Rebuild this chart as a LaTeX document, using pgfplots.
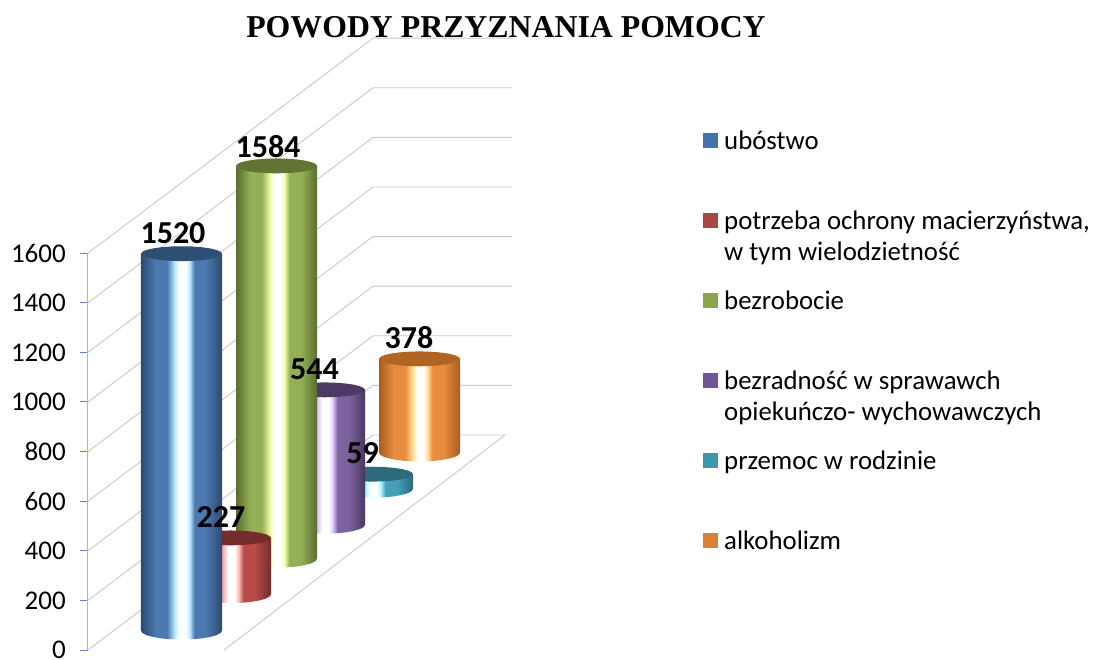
\documentclass[border=0pt]{standalone}
\usepackage{fontspec}
\setmainfont{Carlito}
\newfontfamily\titlefont{Liberation Serif}
\usepackage{pgfplots}
\usepackage{pgfplotstable}
\pgfplotsset{compat=1.18}

\definecolor{gridgray}{HTML}{C8C8C8}
\definecolor{tickblue}{HTML}{5B87C0}
\definecolor{lineblue}{HTML}{9DB8DA}

\definecolor{bluedark}{HTML}{2C4A6E}
\definecolor{bluemid}{HTML}{4C79B0}
\definecolor{bluetint}{HTML}{BEEBFF}
\definecolor{bluelid}{HTML}{2E4E74}
\definecolor{bluekey}{HTML}{4672AA}
\definecolor{reddark}{HTML}{732C2A}
\definecolor{redmid}{HTML}{B84B48}
\definecolor{redtint}{HTML}{FFBEB9}
\definecolor{redlid}{HTML}{762C2A}
\definecolor{redkey}{HTML}{AA4644}
\definecolor{greendark}{HTML}{5A6E30}
\definecolor{greenmid}{HTML}{94B056}
\definecolor{greentint}{HTML}{F0FFAA}
\definecolor{greenlid}{HTML}{607532}
\definecolor{greenkey}{HTML}{8AA64A}
\definecolor{purpledark}{HTML}{483860}
\definecolor{purplemid}{HTML}{7D62A0}
\definecolor{purpletint}{HTML}{E1C8FF}
\definecolor{purplelid}{HTML}{4C3A64}
\definecolor{purplekey}{HTML}{705696}
\definecolor{tealdark}{HTML}{2A687A}
\definecolor{tealmid}{HTML}{44A0B8}
\definecolor{tealtint}{HTML}{B4F5FF}
\definecolor{teallid}{HTML}{2D6A7C}
\definecolor{tealkey}{HTML}{3C96AC}
\definecolor{orangedark}{HTML}{AA5C1E}
\definecolor{orangemid}{HTML}{E88C42}
\definecolor{orangetint}{HTML}{FFE196}
\definecolor{orangelid}{HTML}{B26422}
\definecolor{orangekey}{HTML}{DE8034}

% cylinder side: dark edge, base colour, pale tint, white highlight
\newcommand{\cylshade}[1]{%
  \pgfdeclarehorizontalshading{c#1}{100bp}{%
    color(0bp)=(#1dark); color(25bp)=(#1dark); color(34bp)=(#1mid); color(41bp)=(#1mid);
    color(46bp)=(#1tint); color(48.5bp)=(white); color(52.5bp)=(white);
    color(55bp)=(#1tint); color(58bp)=(#1mid); color(65bp)=(#1mid); color(75bp)=(#1dark); color(100bp)=(#1dark)}}
\cylshade{blue}
\cylshade{red}
\cylshade{green}
\cylshade{purple}
\cylshade{teal}
\cylshade{orange}

% outline of the side: h=1 at the top, then the lower half of the bottom ellipse
\pgfplotstableread{
u h s
0 1 0
81 1 0
81 0 0
79.62 0 0.2588
75.57 0 0.5
69.14 0 0.7071
60.75 0 0.866
50.98 0 0.9659
40.5 0 1
30.02 0 0.9659
20.25 0 0.866
11.86 0 0.7071
5.43 0 0.5
1.38 0 0.2588
0 0 0
}\sideoutline
% outline of the lid
\pgfplotstableread{
u s
0 0
1.38 0.2588
5.43 0.5
11.86 0.7071
20.25 0.866
30.02 0.9659
40.5 1
50.98 0.9659
60.75 0.866
69.14 0.7071
75.57 0.5
79.62 0.2588
81 0
79.62 -0.2588
75.57 -0.5
69.14 -0.7071
60.75 -0.866
50.98 -0.9659
40.5 -1
30.02 -0.9659
20.25 -0.866
11.86 -0.7071
5.43 -0.5
1.38 -0.2588
}\lidoutline

% #1 colour name, #2 left, #3 base, #4 value
\newcommand{\cylinder}[4]{%
  \addplot[forget plot, shade, shading=c#1, draw=none]
    table[x expr=#2+\thisrow{u}, y expr=#3+\thisrow{h}*#4-36*\thisrow{s}] {\sideoutline} --cycle;
  \addplot[forget plot, fill=#1lid, draw=none]
    table[x expr=#2+\thisrow{u}, y expr=#3+#4+30*\thisrow{s}] {\lidoutline} --cycle;
}

\begin{document}
\begin{tikzpicture}
\useasboundingbox (-88pt,0pt) rectangle (1006pt,659pt);
\begin{axis}[
  scale only axis,
  width=1006pt,
  height=659pt,
  xmin=88, xmax=1094,
  ymin=-36.29, ymax=2620.97,
  clip=false,
  axis x line=none,
  axis y line=left,
  y axis line style={draw=none},
  ytick={0,200,400,600,800,1000,1200,1400,1600},
  tick align=outside,
  major tick length=8pt,
  tick style={tickblue, line width=1pt},
  /pgf/number format/assume math mode=true,
  /pgf/number format/1000 sep={},
  yticklabel style={font=\fontsize{27}{27}\selectfont, inner sep=0pt, xshift=-14pt, anchor=east},
  title={\titlefont\bfseries POWODY PRZYZNANIA POMOCY},
  title style={at={(axis cs:506,2487)}, anchor=center, font=\fontsize{31.8}{32}\selectfont},
  legend style={at={(axis cs:703,2089)}, anchor=north west, draw=none, fill=none,
    font=\fontsize{26.8}{31.5}\selectfont, inner sep=0pt, row sep=0pt, column sep=6pt,
    cells={anchor=base west},
    nodes={inner sep=0pt, text height=17pt, text depth=63pt}},
  legend image code/.code={\fill[#1, draw=none] (0pt,1pt) rectangle (15pt,16pt);},
]
% back walls
\addplot[forget plot, gridgray, line width=0.9pt] coordinates {(88,0) (373,867) (505,867)};
\addplot[forget plot, gridgray, line width=0.9pt] coordinates {(224,0) (505,867)};
\addplot[forget plot, gridgray, line width=0.9pt] coordinates {(88,200) (373,1067) (512,1067)};
\addplot[forget plot, gridgray, line width=0.9pt] coordinates {(88,400) (373,1267) (512,1267)};
\addplot[forget plot, gridgray, line width=0.9pt] coordinates {(88,600) (373,1467) (512,1467)};
\addplot[forget plot, gridgray, line width=0.9pt] coordinates {(88,800) (373,1667) (512,1667)};
\addplot[forget plot, gridgray, line width=0.9pt] coordinates {(88,1000) (373,1867) (512,1867)};
\addplot[forget plot, gridgray, line width=0.9pt] coordinates {(88,1200) (373,2067) (512,2067)};
\addplot[forget plot, gridgray, line width=0.9pt] coordinates {(88,1400) (373,2267) (512,2267)};
\addplot[forget plot, gridgray, line width=0.9pt] coordinates {(88,1600) (373,2467) (512,2467)};
\addplot[forget plot, lineblue, line width=1pt] coordinates {(88,0) (88,1600)};

% back to front
\cylinder{orange}{379}{796}{378}
\cylinder{teal}{332}{650}{59}
\cylinder{purple}{284}{505}{544}
\cylinder{green}{236}{368}{1584}
\cylinder{red}{190}{225}{227}
\cylinder{blue}{141}{78}{1520}

% value labels
\addplot[forget plot, draw=none, mark=none, point meta=explicit, nodes near coords,
  nodes near coords align=center,
  every node near coord/.style={font=\fontsize{32}{32}\selectfont\bfseries, inner sep=0pt, anchor=center, yshift=21pt, black}]
  coordinates {(173,1598)[1520] (221,452)[227] (268,1944)[1584] (314.5,1049)[544] (362.5,709)[59] (409,1174)[378]};

\addlegendimage{fill=bluekey}
\addlegendentry{ubóstwo}
\addlegendimage{fill=redkey}
\addlegendentry{\begin{tabular}[t]{@{}l@{}}potrzeba ochrony macierzyństwa,\\w tym wielodzietność\end{tabular}}
\addlegendimage{fill=greenkey}
\addlegendentry{bezrobocie}
\addlegendimage{fill=purplekey}
\addlegendentry{\begin{tabular}[t]{@{}l@{}}bezradność w sprawawch\\opiekuńczo- wychowawczych\end{tabular}}
\addlegendimage{fill=tealkey}
\addlegendentry{przemoc w rodzinie}
\addlegendimage{fill=orangekey}
\addlegendentry{alkoholizm}
\end{axis}
\end{tikzpicture}
\end{document}
